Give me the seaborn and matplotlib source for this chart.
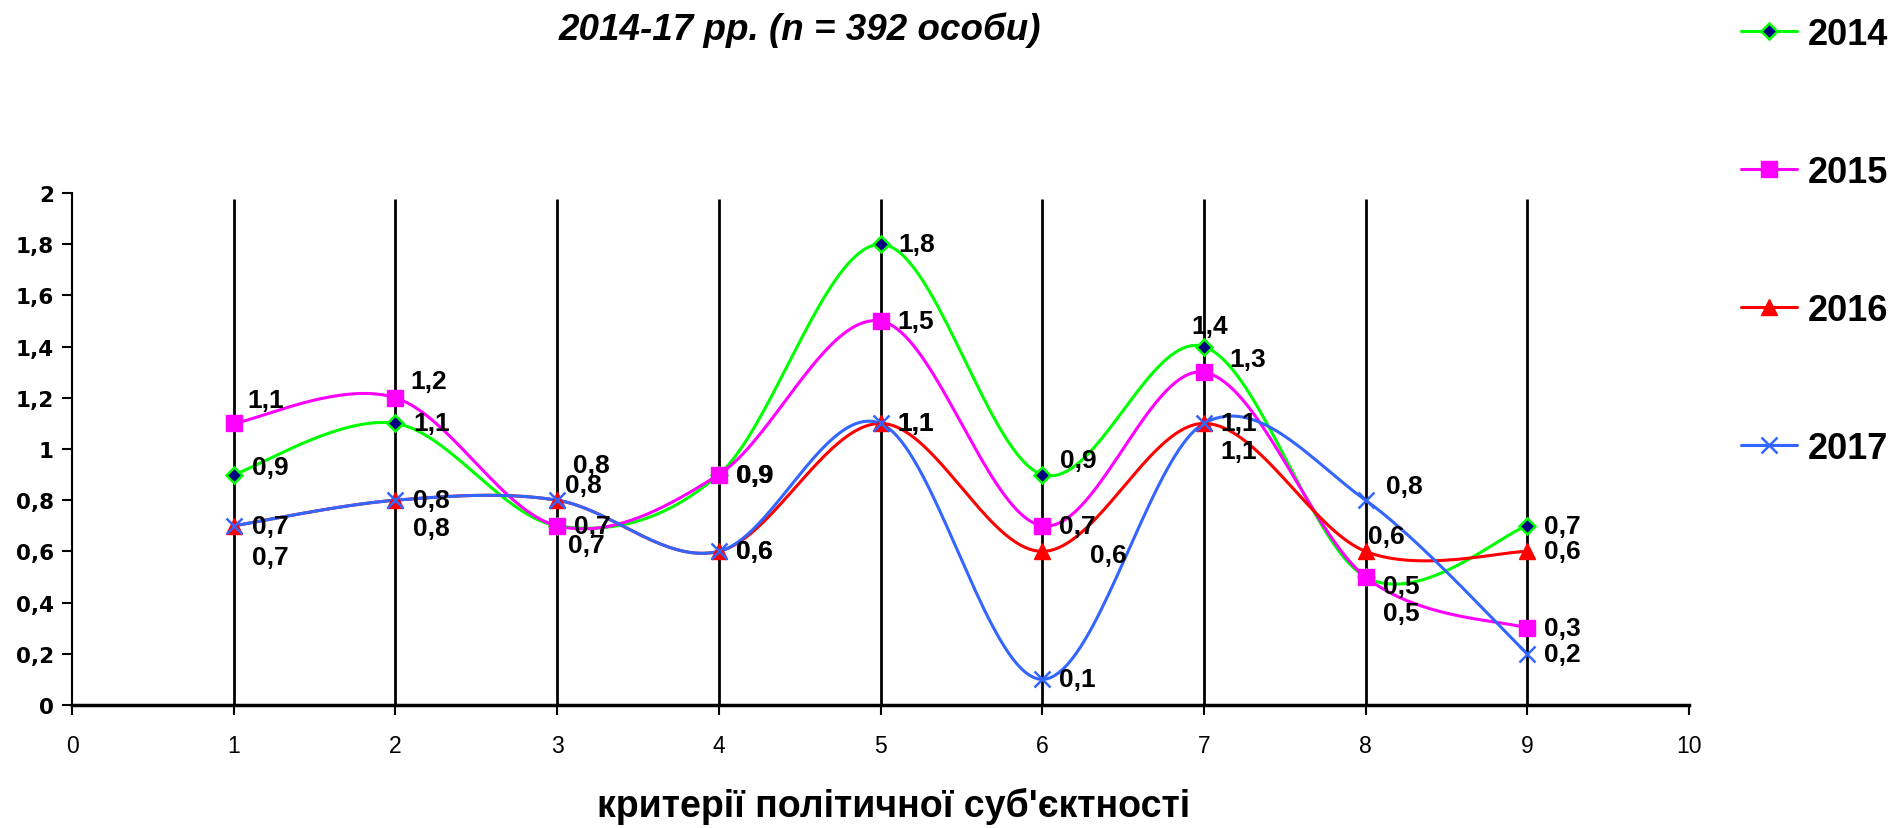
import numpy as np
import pandas as pd
import matplotlib
matplotlib.use("Agg")
import matplotlib.pyplot as plt
from matplotlib.lines import Line2D
import seaborn as sns

# ---- data ----
criteria = [1, 2, 3, 4, 5, 6, 7, 8, 9]
years = ["2014", "2015", "2016", "2017"]
v2014 = [0.9, 1.1, 0.7, 0.9, 1.8, 0.9, 1.4, 0.5, 0.7]
v2015 = [1.1, 1.2, 0.7, 0.9, 1.5, 0.7, 1.3, 0.5, 0.3]
v2016 = [0.7, 0.8, 0.8, 0.6, 1.1, 0.6, 1.1, 0.6, 0.6]
v2017 = [0.7, 0.8, 0.8, 0.6, 1.1, 0.1, 1.1, 0.8, 0.2]
y_ticks = [0, 0.2, 0.4, 0.6, 0.8, 1.0, 1.2, 1.4, 1.6, 1.8, 2.0]
x_ticks = [0, 1, 2, 3, 4, 5, 6, 7, 8, 9, 10]
title_text = "2014-17 рр. (n = 392 особи)"
xlabel_text = "критерії політичної суб'єктності"

series = {"2014": v2014, "2015": v2015, "2016": v2016, "2017": v2017}

# ---- styles ----
styles = {
    "2014": dict(color="#00FF00", marker="D", mfc="#000080", mec="#00FF00", ms=8, mew=1.8),
    "2015": dict(color="#FF00FF", marker="s", mfc="#FF00FF", mec="#FF00FF", ms=11, mew=1),
    "2016": dict(color="#FF0000", marker="^", mfc="#FF0000", mec="#FF0000", ms=11, mew=1),
    "2017": dict(color="#3366FF", marker="x", mfc="#3366FF", mec="#3366FF", ms=11, mew=1.8),
}
# label offsets in pixels (dx to left edge, dy of label center)
offsets = {
    "2014": [(18, 8), (18, 0), (17, 0), (18, 0), (18, 0), (18, 15), (-13, 21), (17, -9), (17, 0)],
    "2015": [(14, 23), (15, 17), (11, -19), (17, 0), (17, 0), (17, 0), (25, 13), (17, -36), (17, 0)],
    "2016": [(18, -31), (18, -28), (8, 15), (17, 0), (17, 0), (48, -4), (16, -28), (2, 15), (17, 0)],
    "2017": [(18, 0), (18, 0), (16, 35), (17, 0), (17, 0), (17, 0), (16, 0), (20, 14), (17, 0)],
}


def smooth(xs, ys, n=40):
    """Excel-like smoothed line: cubic Bezier with Catmull-Rom control points."""
    P = np.column_stack([xs, ys]).astype(float)
    m = len(P)
    out = []
    t = np.linspace(0, 1, n)
    for i in range(m - 1):
        p0 = P[i]
        p3 = P[i + 1]
        pm = P[i - 1] if i > 0 else P[i]
        pp = P[i + 2] if i + 2 < m else P[i + 1]
        c1 = p0 + (p3 - pm) / 6.0
        c2 = p3 - (pp - p0) / 6.0
        seg = ((1 - t) ** 3)[:, None] * p0 + (3 * (1 - t) ** 2 * t)[:, None] * c1 \
            + (3 * (1 - t) * t ** 2)[:, None] * c2 + (t ** 3)[:, None] * p3
        out.append(seg if i == 0 else seg[1:])
    arr = np.vstack(out)
    return arr[:, 0], arr[:, 1]


sns.set_theme(style="white")
plt.rcParams["font.family"] = ["Liberation Sans", "DejaVu Sans"]
plt.rcParams["text.color"] = "black"
plt.rcParams["xtick.color"] = "black"
plt.rcParams["ytick.color"] = "black"
plt.rcParams["axes.labelcolor"] = "black"

fig = plt.figure(figsize=(18.92, 8.29), dpi=100)
ax = fig.add_axes([72 / 1892, 1 - 706 / 829, (1689 - 72) / 1892, (706 - 194) / 829])

# vertical lines at each criterion
ax.vlines(criteria, 0, 1.975, colors="black", linewidth=2, zorder=1)

for yr in years:
    st = styles[yr]
    sx, sy = smooth(criteria, series[yr])
    df = pd.DataFrame({"x": sx, "y": sy})
    sns.lineplot(data=df, x="x", y="y", sort=False, ax=ax, color=st["color"],
                 linewidth=2.2, zorder=3)
    ax.plot(criteria, series[yr], linestyle="none", marker=st["marker"],
            markerfacecolor=st["mfc"], markeredgecolor=st["mec"],
            markersize=st["ms"], markeredgewidth=st["mew"], zorder=4)

for yr in years:
    for xi, yi, (dx, dy) in zip(criteria, series[yr], offsets[yr]):
        ax.annotate(f"{yi:.1f}".replace(".", ","), (xi, yi), xytext=(dx, dy),
                    textcoords="offset pixels", ha="left", va="center",
                    fontsize=19, fontweight="bold", color="black", zorder=5)

ax.set_xlim(0, 10)
ax.set_ylim(0, 2)
ax.set_xticks(x_ticks)
ax.set_xticklabels([str(v) for v in x_ticks], fontsize=16.5)
ax.set_yticks(y_ticks)
ax.set_yticklabels([("%g" % v).replace(".", ",") for v in y_ticks], fontsize=15.5,
                   fontweight="bold", family="DejaVu Sans")
ax.set_xlabel("")
ax.set_ylabel("")
ax.tick_params(axis="both", which="both", direction="out", length=7, width=1.5,
               color="black", left=True, bottom=True, pad=6)
ax.tick_params(axis="x", pad=14)
for s in ["top", "right"]:
    ax.spines[s].set_visible(False)
ax.spines["left"].set_color("black")
ax.spines["left"].set_linewidth(1.5)
ax.spines["bottom"].set_color("black")
ax.spines["bottom"].set_linewidth(2.5)
ax.set_facecolor("white")
ax.grid(False)

fig.text(800 / 1892, 1 - 30 / 829, title_text, ha="center", va="center",
         fontsize=26.5, fontweight="bold", fontstyle="italic")
fig.text(894 / 1892, 1 - 806 / 829, xlabel_text, ha="center", va="center",
         fontsize=27, fontweight="bold")

handles = []
for yr in years:
    st = styles[yr]
    handles.append(Line2D([0], [0], color=st["color"], linewidth=2.2, marker=st["marker"],
                          markerfacecolor=st["mfc"], markeredgecolor=st["mec"],
                          markersize=st["ms"], markeredgewidth=st["mew"]))
fig.legend(handles, years, loc="upper left", bbox_to_anchor=(1741 / 1892, 1 - 18 / 829),
           frameon=False, borderpad=0, borderaxespad=0, handlelength=1.55,
           handletextpad=0.3, labelspacing=2.85,
           prop=dict(family="Liberation Sans", weight="bold", size=26))

fig.savefig("out.png", dpi=100, facecolor="white")
